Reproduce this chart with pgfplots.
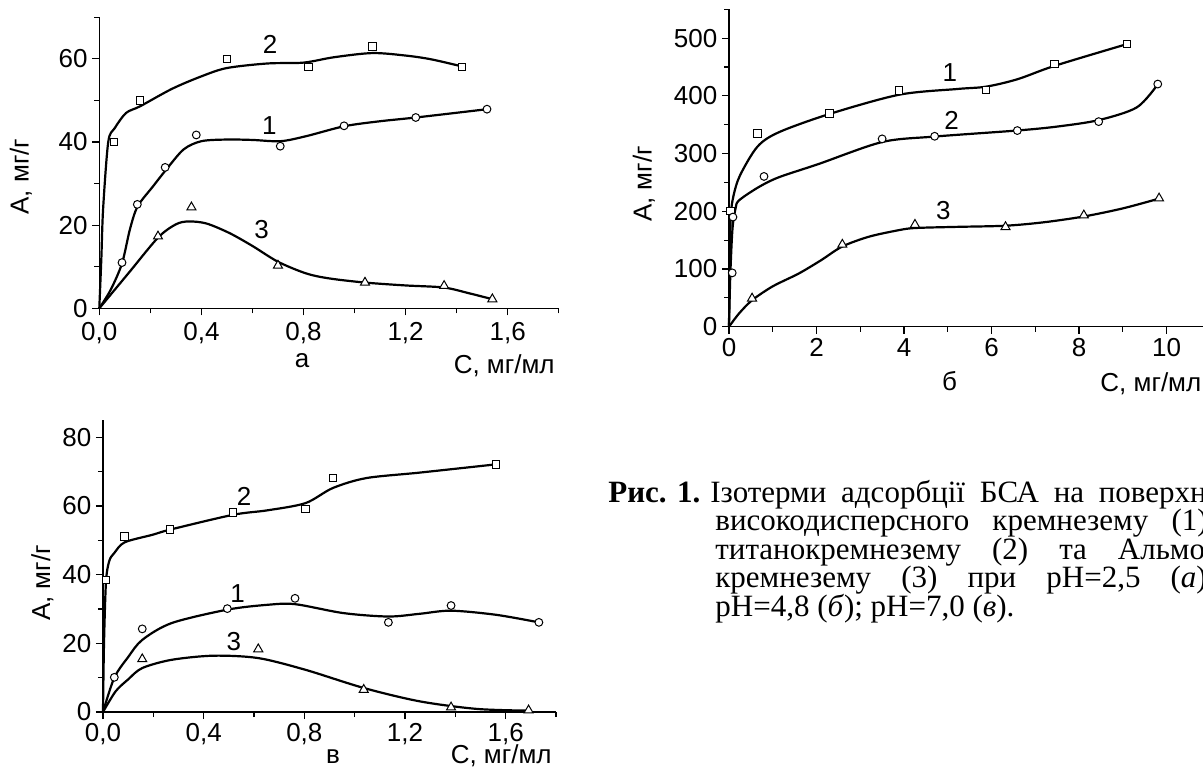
\documentclass[border=0pt]{standalone}
\usepackage{fontspec}
\setmainfont{Liberation Sans}
\newfontfamily\capfont{Liberation Serif}
\usepackage{pgfplots}
\pgfplotsset{compat=1.18}
\newcommand\af{\fontsize{13}{15.5}\selectfont}
\pgfplotsset{
  myax/.style={scale only axis, axis lines=left, axis line style={-, line width=0.6pt},
    tick align=outside, major tick length=3.5pt, minor tick length=2.5pt,
    tick style={black, line width=0.6pt},
    every tick label/.append style={font=\af},
    yticklabel style={xshift=1.2pt},
    clip=false, anchor=south west},
  sq/.style={only marks, mark=square*, mark size=1.85pt, mark options={fill=white, draw=black, line width=0.5pt}},
  ci/.style={only marks, mark=*, mark size=1.95pt, mark options={fill=white, draw=black, line width=0.5pt}},
  tr/.style={only marks, mark=triangle*, mark size=2.6pt, mark options={fill=white, draw=black, line width=0.5pt}},
  cv/.style={smooth, no marks, black, line width=1.1pt},
}
\begin{document}
\begin{tikzpicture}
\path[use as bounding box] (0,0) rectangle (601.5pt,-383.5pt);
\clip (0,0) rectangle (601.5pt,-383.5pt);
% ---------- panel a ----------
\begin{axis}[myax, at={(49.65pt,-154.15pt)}, width=229.7pt, height=145.5pt,
  xmin=0, xmax=1.8, ymin=0, ymax=70,
  xtick={0,0.4,0.8,1.2,1.6}, xticklabels={{0,0},{0,4},{0,8},{1,2},{1,6}},
  minor xtick={0.2,0.6,1.0,1.4,1.8},
  ytick={0,20,40,60}, yticklabels={0,20,40,60}, minor ytick={10,30,50,70}]
\addplot[cv] coordinates {(0,0) (0.008,12) (0.015,24) (0.035,40) (0.06,43.3) (0.105,47) (0.16,48.6) (0.285,52.8) (0.4,55.8) (0.5,57.8) (0.66,58.9) (0.8,59.1) (0.92,60.4) (1.07,61.4) (1.2,60.8) (1.3,59.9) (1.42,58.2)};
\addplot[cv] coordinates {(0,0) (0.045,4.5) (0.089,10.8) (0.12,19) (0.15,24.5) (0.21,29.3) (0.26,33.2) (0.33,38.2) (0.4,40.2) (0.5,40.6) (0.6,40.5) (0.71,40.2) (0.81,41.4) (0.96,43.8) (1.1,45) (1.24,45.9) (1.52,47.9)};
\addplot[cv] coordinates {(0,0) (0.115,8.5) (0.23,17) (0.3,20.2) (0.35,20.9) (0.42,20.4) (0.51,18.1) (0.6,15) (0.7,11.2) (0.81,8.4) (0.9,7.2) (1.04,6.2) (1.2,5.5) (1.35,5.0) (1.45,3.6) (1.54,2.2)};
\addplot[sq] coordinates {(0.057,40) (0.16,50) (0.5,60) (0.82,58) (1.07,63) (1.42,58)};
\addplot[ci] coordinates {(0.089,11) (0.149,25) (0.258,33.9) (0.38,41.7) (0.709,39) (0.959,43.9) (1.24,45.9) (1.519,47.9)};
\addplot[tr] coordinates {(0.23,17.3) (0.361,24.3) (0.70,10.3) (1.041,6.2) (1.351,5.4) (1.54,2.2)};
\node[font=\af] at (axis cs:0.669,63.5) {2};
\node[font=\af] at (axis cs:0.666,43.9) {1};
\node[font=\af] at (axis cs:0.636,18.9) {3};
\end{axis}
% ---------- panel b ----------
\begin{axis}[myax, at={(364.5pt,-163.35pt)}, width=262.5pt, height=158.7pt,
  xmin=0, xmax=12, ymin=0, ymax=550,
  xtick={0,2,4,6,8,10}, xticklabels={0,2,4,6,8,10},
  minor xtick={1,3,5,7,9,11},
  xticklabel style={yshift=1pt},
  ytick={0,100,200,300,400,500}, yticklabels={0,100,200,300,400,500},
  minor ytick={50,150,250,350,450,550}]
\addplot[cv] coordinates {(0,0) (0.015,100) (0.04,190) (0.1,226) (0.25,262) (0.65,312) (1.14,337) (2.3,368.7) (3.89,402) (5.23,412) (5.88,416) (6.6,429) (7.44,452) (9.09,489.6)};
\addplot[cv] coordinates {(0,0) (0.03,90) (0.08,170) (0.15,205) (0.23,219) (0.68,242) (1.14,259) (2.05,282) (3.5,320) (4.7,329.5) (6.59,340) (7.5,346.8) (8.45,358) (9.32,380) (9.8,420)};
\addplot[cv] coordinates {(0,0) (0.23,23) (0.53,46) (1.0,70) (1.59,92) (2.1,115) (2.59,139) (3.2,156) (3.86,167) (4.25,171) (5.2,173) (6.32,175) (7.2,181) (8.11,191) (9.0,205) (9.83,222)};
\addplot[sq] coordinates {(0.03,200) (0.655,334.7) (2.3,369.8) (3.89,409) (5.88,410) (7.44,455) (9.09,489.6)};
\addplot[ci] coordinates {(0.073,93.3) (0.09,190) (0.8,260.4) (3.5,325.5) (4.7,330) (6.59,339.9) (8.45,355.4) (9.8,420.5)};
\addplot[tr] coordinates {(0.527,49) (2.59,142.3) (4.25,176.8) (6.32,172.8) (8.11,193) (9.83,222.4)};
\node[font=\af] at (axis cs:5.05,440.7) {1};
\node[font=\af] at (axis cs:5.09,358.3) {2};
\node[font=\af] at (axis cs:4.9,200.5) {3};
\end{axis}
% ---------- panel v ----------
\begin{axis}[myax, at={(51.5pt,-356pt)}, width=226.5pt, height=146pt,
  xmin=0, xmax=1.8, ymin=0, ymax=85,
  xtick={0,0.4,0.8,1.2,1.6}, xticklabels={{0,0},{0,4},{0,8},{1,2},{1,6}},
  minor xtick={0.2,0.6,1.0,1.4,1.8},
  xticklabel style={yshift=1.2pt},
  ytick={0,20,40,60,80}, yticklabels={0,20,40,60,80}, minor ytick={10,30,50,70}]
\addplot[cv] coordinates {(0,0) (0.004,20) (0.012,38) (0.025,44) (0.045,46.3) (0.086,49.4) (0.197,51.6) (0.267,53.1) (0.516,57.4) (0.652,58.7) (0.804,60.8) (0.913,65.2) (1.046,68.1) (1.259,69.7) (1.562,72.1)};
\addplot[cv] coordinates {(0,0) (0.045,10) (0.1,16) (0.156,21) (0.273,25.9) (0.494,29.8) (0.652,31.2) (0.763,31.4) (0.955,28.8) (1.134,27.8) (1.259,28.6) (1.383,29.5) (1.562,28.3) (1.732,26.1)};
\addplot[cv] coordinates {(0,0) (0.05,6) (0.1,9.5) (0.156,12.8) (0.273,15.2) (0.44,16.4) (0.617,15.7) (0.804,12.3) (1.036,7) (1.259,3.1) (1.486,0.9) (1.691,0.4)};
\addplot[sq] coordinates {(0.012,38.5) (0.086,51.1) (0.267,53.1) (0.516,58.1) (0.804,59.1) (0.913,68.1) (1.562,72.1)};
\addplot[ci] coordinates {(0.045,10.1) (0.156,24.2) (0.494,30.1) (0.763,33.1) (1.134,26.1) (1.383,31) (1.732,26.1)};
\addplot[tr] coordinates {(0.156,15.4) (0.617,18.3) (1.036,6.5) (1.383,1.36) (1.691,0.5)};
\node[font=\af] at (axis cs:0.561,62.8) {2};
\node[font=\af] at (axis cs:0.535,34.6) {1};
\node[font=\af] at (axis cs:0.52,20.6) {3};
\end{axis}
% ---------- axis titles ----------
\node[font=\af, rotate=90, anchor=base, inner sep=0] at (14.35pt,-88.35pt) {А, мг/г};
\node[font=\af, rotate=90, anchor=base, inner sep=0] at (325.75pt,-92pt) {А, мг/г};
\node[font=\af, rotate=90, anchor=base, inner sep=0] at (25pt,-291.5pt) {А, мг/г};
\node[font=\af, anchor=base, inner sep=0] at (151pt,-183.75pt) {а};
\node[font=\af, anchor=base east, inner sep=0] at (277.5pt,-186.75pt) {С, мг/мл};
\node[font=\af, anchor=base, inner sep=0] at (474.75pt,-195pt) {б};
\node[font=\af, anchor=base west, inner sep=0] at (550pt,-195.5pt) {С, мг/мл};
\node[font=\af, anchor=base, inner sep=0] at (166.5pt,-381.75pt) {в};
\node[font=\af, anchor=base east, inner sep=0] at (276pt,-381.75pt) {С, мг/мл};
% ---------- caption ----------
\begin{scope}[every node/.style={anchor=base west, inner sep=0, font={\capfont\fontsize{15.5}{14}\selectfont}}]
\node at (304pt,-251.25pt) {\textbf{Рис. 1.}};
\node at (355pt,-251.25pt) {\makebox[252.5pt][s]{Ізотерми адсорбції БСА на поверхні}};
\node at (357.5pt,-265.4pt) {\makebox[250pt][s]{високодисперсного кремнезему (1),}};
\node at (357.5pt,-279.6pt) {\makebox[250pt][s]{титанокремнезему (2) та Альмо-}};
\node at (357.5pt,-293.75pt) {\makebox[250pt][s]{кремнезему (3) при pH=2,5 (\textit{а});}};
\node at (357.5pt,-308pt) {pH=4,8 (\textit{б}); pH=7,0 (\textit{в}).};
\end{scope}
\end{tikzpicture}
\end{document}
